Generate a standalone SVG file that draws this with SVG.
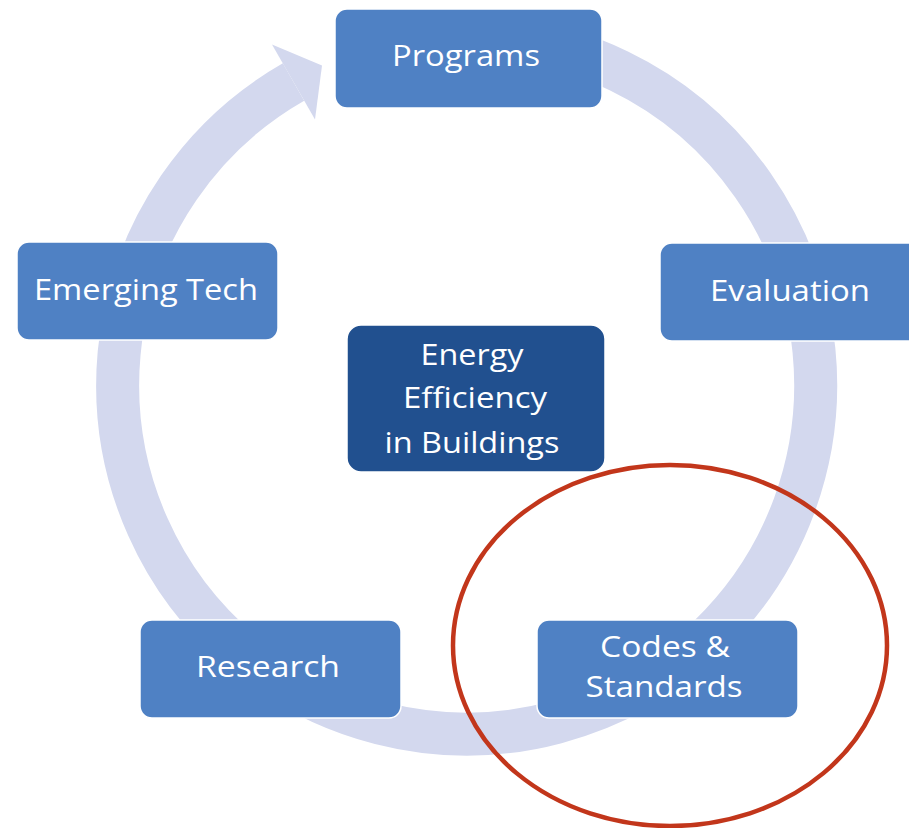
<svg xmlns="http://www.w3.org/2000/svg" width="909" height="828" viewBox="0 0 909 828">
<style>
.box{fill:#4f81c4;stroke:#ffffff;stroke-width:1.5}
.core{fill:#21508f;stroke:#ffffff;stroke-width:1.5}
.t{font-family:"Open Sans","Liberation Sans",sans-serif;font-size:29px;fill:#ffffff;text-anchor:middle}
.ring{fill:none;stroke:#d3d8ee;stroke-width:43}
</style>
<rect width="909" height="828" fill="#ffffff"/>
<g id="connectors">
  <path class="ring" d="M 467 36 A 349 349 0 1 1 293.5 82"/>
  <polygon points="272,44.5 315,119.5 322,65.5" fill="#d3d8ee"/>
</g>
<g id="programs">
  <rect class="box" x="335" y="9" width="267" height="99" rx="12"/>
  <text class="t" x="466" y="66" textLength="148" lengthAdjust="spacingAndGlyphs">Programs</text>
</g>
<g id="evaluation">
  <rect class="box" x="660" y="243" width="262" height="98" rx="12"/>
  <text class="t" x="790" y="301" textLength="160" lengthAdjust="spacingAndGlyphs">Evaluation</text>
</g>
<g id="codes">
  <rect class="box" x="537" y="620" width="261" height="98" rx="12"/>
  <text class="t" x="665" y="657" textLength="130" lengthAdjust="spacingAndGlyphs">Codes &amp;</text>
  <text class="t" x="664" y="697" textLength="157" lengthAdjust="spacingAndGlyphs">Standards</text>
</g>
<g id="research">
  <rect class="box" x="140" y="620" width="261" height="98" rx="12"/>
  <text class="t" x="268" y="677" textLength="144" lengthAdjust="spacingAndGlyphs">Research</text>
</g>
<g id="emerging">
  <rect class="box" x="17" y="242" width="261" height="98" rx="12"/>
  <text class="t" x="146" y="300" textLength="224" lengthAdjust="spacingAndGlyphs">Emerging Tech</text>
</g>
<g id="center">
  <rect class="core" x="347" y="325" width="258" height="147" rx="14"/>
  <text class="t" x="472" y="365" textLength="103" lengthAdjust="spacingAndGlyphs">Energy</text>
  <text class="t" x="475" y="408" textLength="144" lengthAdjust="spacingAndGlyphs">Efficiency</text>
  <text class="t" x="472" y="453" textLength="175" lengthAdjust="spacingAndGlyphs">in Buildings</text>
</g>
<g id="highlight">
  <ellipse cx="670" cy="645.5" rx="217" ry="180.5" fill="none" stroke="#c2361b" stroke-width="4.5"/>
</g>
</svg>
